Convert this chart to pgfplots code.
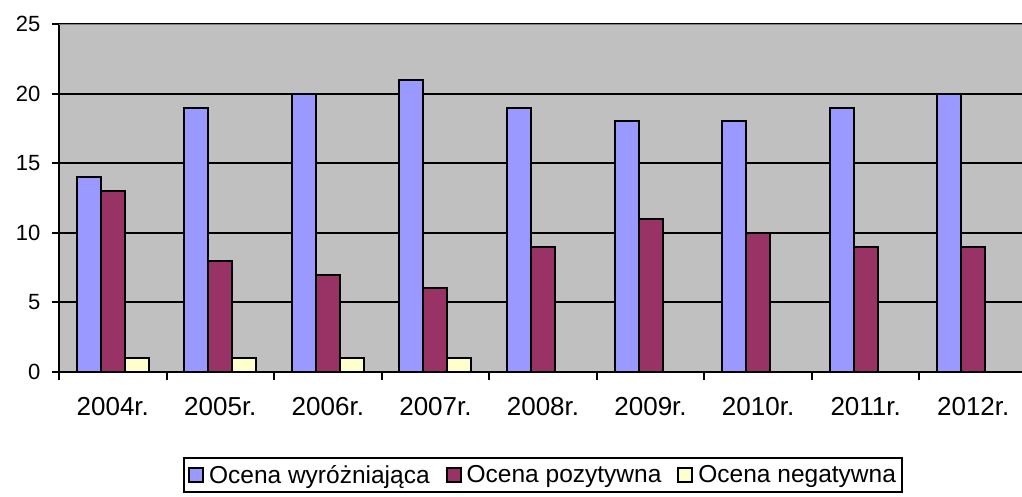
\documentclass[border=0pt]{standalone}
\usepackage{pgfplots}
\pgfplotsset{compat=1.18}
\usepackage{fontspec}
\setmainfont{Liberation Sans}
\definecolor{cblue}{HTML}{9999FF}
\definecolor{cmaroon}{HTML}{993366}
\definecolor{cyellow}{HTML}{FFFFCC}
\definecolor{cbg}{HTML}{C0C0C0}
\begin{document}
\begin{tikzpicture}[x=1pt,y=1pt]
\path[use as bounding box] (-59pt,-124pt) rectangle (963pt,372pt);
\begin{axis}[
  at={(0pt,0pt)}, anchor=south west,
  scale only axis, width=963pt, height=348pt,
  xmin=-0.5, xmax=8.4535, ymin=0, ymax=25,
  /pgf/number format/assume math mode=true,
  axis background/.style={fill=cbg},
  axis x line*=bottom, axis y line*=left,
  axis line style={black, line width=2pt, -},
  xtick={0,...,8},
  xticklabels={2004r.,2005r.,2006r.,2007r.,2008r.,2009r.,2010r.,2011r.,2012r.},
  minor xtick={-0.5,0.5,1.5,2.5,3.5,4.5,5.5,6.5,7.5},
  ytick={0,5,...,25},
  ymajorgrids, grid style={black, line width=2pt},
  major x tick style={draw=none},
  minor tick length=8pt, major tick length=7pt,
  tick align=outside,
  tick style={black, line width=2pt},
  xticklabel style={font=\fontsize{26}{30}\selectfont, anchor=base, yshift=-36pt},
  yticklabel style={font=\fontsize{22}{26}\selectfont, anchor=east, xshift=-8pt},
  legend columns=3,
  legend style={at={(0.5026,-0.2443)}, anchor=north, draw=black, line width=2pt,
    font=\fontsize{24.5}{28}\selectfont, inner xsep=4pt, inner ysep=5pt,
    /tikz/every odd column/.append style={column sep=3pt},
    /tikz/every even column/.append style={column sep=14pt}},
  legend image code/.code={\draw[#1, draw=black, line width=2pt] (0pt,-7pt) rectangle (14pt,7pt);},
  legend cell align=left,
]
\addplot[ybar, bar width=0.2231, bar shift=-0.2231, fill=cblue, draw=black, line width=2pt]
  coordinates {(0,14) (1,19) (2,20) (3,21) (4,19) (5,18) (6,18) (7,19) (8,20)};
\addlegendentry{Ocena wyróżniająca}
\addplot[ybar, bar width=0.2231, bar shift=0, fill=cmaroon, draw=black, line width=2pt]
  coordinates {(0,13) (1,8) (2,7) (3,6) (4,9) (5,11) (6,10) (7,9) (8,9)};
\addlegendentry{Ocena pozytywna}
\addplot[ybar, bar width=0.2231, bar shift=0.2231, fill=cyellow, draw=black, line width=2pt]
  coordinates {(0,1) (1,1) (2,1) (3,1) (4,0) (5,0) (6,0) (7,0) (8,0)};
\addlegendentry{Ocena negatywna}
\draw[gray, line width=2pt] (rel axis cs:0,1) -- (rel axis cs:1,1);
\end{axis}
\end{tikzpicture}
\end{document}
